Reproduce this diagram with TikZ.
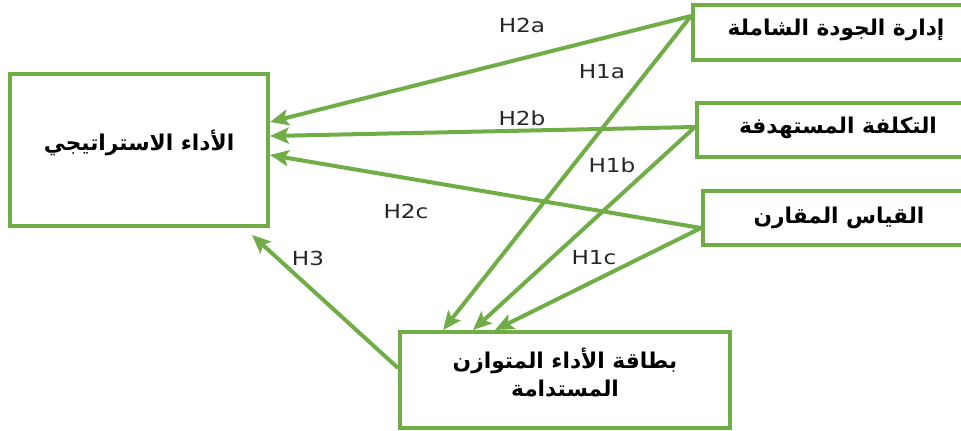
\documentclass[tikz,border=0pt]{standalone}
\usepackage{fontspec}
\usetikzlibrary{arrows.meta,calc}
\TeXXeTstate=1
\newfontfamily\arabicfont[Script=Arabic]{DejaVu Sans}
\newfontfamily\labfont[FakeStretch=1.2]{DejaVu Sans}
\definecolor{grn}{HTML}{70AD47}
\tikzset{
  box/.style={draw=grn, line width=3pt, rectangle, inner sep=0pt, fill=white},
  artext/.style={font=\arabicfont\bfseries\fontsize{16.3}{21}\selectfont, inner sep=0pt, align=center},
  hlab/.style={font=\labfont\fontsize{14.5}{16}\selectfont, text=black!85, inner sep=0pt},
  conn/.style={draw=grn, line width=3pt, -{Stealth[length=14pt,width=12pt,inset=3pt]}}
}
\begin{document}
\begin{tikzpicture}[x=0.75pt,y=-0.75pt]
\useasboundingbox (0,0) rectangle (961,430);
\begin{scope}
\clip (0,0) rectangle (961,430);
% boxes
\node[box, minimum width=193.5pt, minimum height=114pt] (perf) at (139,150) {};
\node[box, minimum width=215.25pt, minimum height=41.25pt] (tqm) at (836.5,32.5) {};
\node[box, minimum width=212.25pt, minimum height=40.5pt] (cost) at (838.5,130) {};
\node[box, minimum width=207.75pt, minimum height=40.5pt] (bench) at (841.5,218) {};
\node[box, minimum width=247.5pt, minimum height=72pt] (bsc) at (565,380) {};
% texts
\node[artext] (tperf) at (139,143) {\beginR الأداء الاستراتيجي\endR};
\node[artext] (ttqm) at (836,30) {\beginR إدارة الجودة الشاملة\endR};
\node[artext] (tcost) at (838,128) {\beginR التكلفة المستهدفة\endR};
\node[artext] (tbench) at (839,218) {\beginR القياس المقارن\endR};
\node[artext] (tbsc) at (565,373) {\beginR بطاقة الأداء المتوازن\endR\\\beginR المستدامة\endR};
% connectors
\draw[conn] ([yshift=12.4pt]tqm.west) -- ([yshift=21pt]perf.east);
\draw[conn] ([yshift=2.25pt]cost.west) -- ([yshift=10.5pt]perf.east);
\draw[conn] ([yshift=-7.5pt]bench.west) -- ([yshift=-3.75pt]perf.east);
\draw[conn] ([yshift=12.4pt]tqm.west) -- ([xshift=-91.5pt]bsc.north);
\draw[conn] ([yshift=2.25pt]cost.west) -- ([xshift=-69pt]bsc.north);
\draw[conn] ([yshift=-7.5pt]bench.west) -- ([xshift=-52.5pt]bsc.north);
\draw[conn] ([yshift=9pt]bsc.west) -- ([xshift=-13.5pt,yshift=-5.25pt]perf.south east);
% labels
\node[hlab] (h2a) at (522,25) {H2a};
\node[hlab] (h1a) at (602,72) {H1a};
\node[hlab] (h2b) at (522,118) {H2b};
\node[hlab] (h1b) at (612,165) {H1b};
\node[hlab] (h2c) at (406,211) {H2c};
\node[hlab] (h3) at (308,258) {H3};
\node[hlab] (h1c) at (594,258) {H1c};
\end{scope}
\end{tikzpicture}
\end{document}
